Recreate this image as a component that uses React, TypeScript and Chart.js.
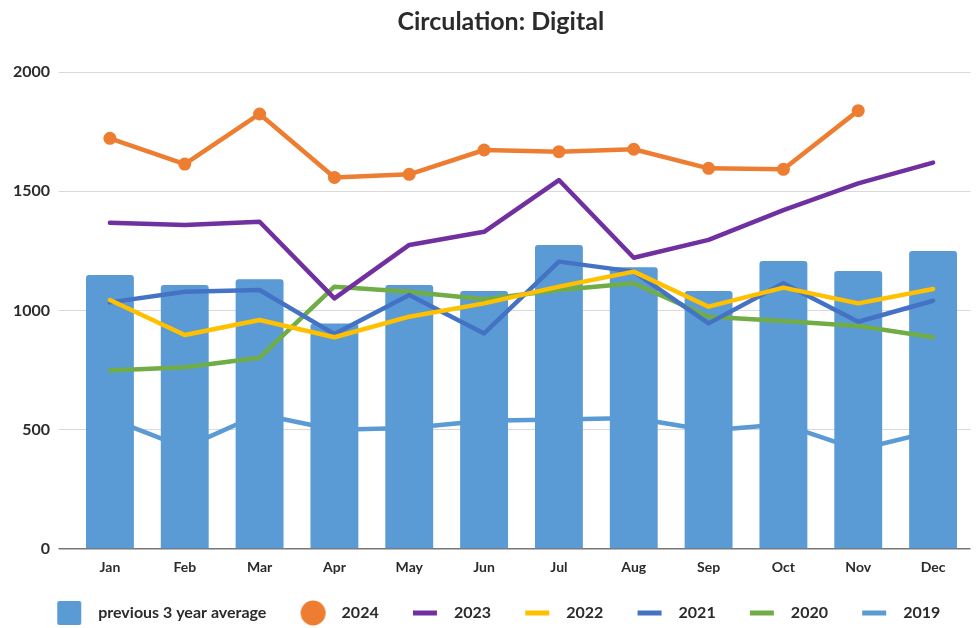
import { useEffect, useRef } from 'react';
import { Chart, registerables } from 'chart.js';

Chart.register(...registerables);

const months = ['Jan', 'Feb', 'Mar', 'Apr', 'May', 'Jun', 'Jul', 'Aug', 'Sep', 'Oct', 'Nov', 'Dec'];
const avg3 = [1149, 1107, 1131, 946, 1107, 1082, 1275, 1181, 1082, 1208, 1166, 1250];
const y2024 = [1722, 1614, 1824, 1558, 1571, 1673, 1666, 1676, 1596, 1592, 1838, null];
const y2023 = [1368, 1358, 1372, 1051, 1275, 1330, 1547, 1221, 1296, 1421, 1533, 1620];
const y2022 = [1044, 897, 960, 888, 974, 1030, 1100, 1163, 1016, 1096, 1030, 1090];
const y2021 = [1034, 1079, 1086, 901, 1065, 904, 1205, 1163, 946, 1114, 953, 1041];
const y2020 = [748, 762, 802, 1100, 1079, 1047, 1086, 1114, 974, 956, 935, 888];
const y2019 = [547, 425, 565, 500, 507, 538, 543, 549, 497, 523, 417, 493];
const yTicks = [0, 500, 1000, 1500, 2000];

const C_BAR = '#5B9BD5';
const C_2024 = '#ED7D31';
const C_2023 = '#7030A0';
const C_2022 = '#FFC000';
const C_2021 = '#4472C4';
const C_2020 = '#70AD47';
const C_2019 = '#5B9BD5';
const TEXT = '#2b2b2b';

const SW_MARGIN = 18;

function makeSwatch(kind: 'square' | 'circle' | 'line', color: string): HTMLCanvasElement {
  const c = document.createElement('canvas');
  c.width = 33 + SW_MARGIN;
  c.height = 26;
  const g = c.getContext('2d')!;
  g.fillStyle = color;
  const x0 = SW_MARGIN;
  if (kind === 'square') {
    g.beginPath();
    (g as any).roundRect ? (g as any).roundRect(x0, 1, 24, 24, 2) : g.rect(x0, 1, 24, 24);
    g.fill();
  } else if (kind === 'circle') {
    g.beginPath();
    g.arc(x0 + 12.5, 13, 12.5, 0, Math.PI * 2);
    g.fill();
  } else {
    g.fillRect(x0, 10.5, 24, 5);
  }
  return c;
}

const shiftPlugin = {
  id: 'shiftBoxes',
  afterLayout(chart: any) {
    const t = chart.titleBlock;
    if (t) {
      t.left += 14;
      t.right += 14;
    }
    const l = chart.legend;
    if (l) {
      l.left += 3;
      l.right += 3;
      l.top += 3;
      l.bottom += 3;
    }
  },
};

export default function App() {
  const ref = useRef<HTMLCanvasElement>(null);

  useEffect(() => {
    document.body.style.margin = '0';
    Chart.defaults.font.family = 'Lato';
    const swatches = [
      makeSwatch('square', C_BAR),
      makeSwatch('circle', C_2024),
      makeSwatch('line', C_2023),
      makeSwatch('line', C_2022),
      makeSwatch('line', C_2021),
      makeSwatch('line', C_2020),
      makeSwatch('line', C_2019),
    ];
    const lineDs = (label: string, data: (number | null)[], color: string, order: number) => ({
      type: 'line' as const,
      label,
      data,
      borderColor: color,
      backgroundColor: color,
      borderWidth: 4.5,
      pointRadius: 0,
      pointHoverRadius: 0,
      tension: 0,
      borderJoinStyle: 'round' as const,
      borderCapStyle: 'round' as const,
      order,
    });
    const chart = new Chart(ref.current!, {
      type: 'bar',
      plugins: [shiftPlugin],
      data: {
        labels: months,
        datasets: [
          {
            type: 'bar',
            label: 'previous 3 year average',
            data: avg3,
            backgroundColor: C_BAR,
            borderRadius: 3,
            barPercentage: 0.64,
            categoryPercentage: 1,
            order: 9,
          },
          {
            ...lineDs('2024', y2024, C_2024, 1),
            pointRadius: 6.5,
            pointBackgroundColor: C_2024,
            pointBorderWidth: 0,
          },
          lineDs('2023', y2023, C_2023, 2),
          lineDs('2022', y2022, C_2022, 3),
          lineDs('2021', y2021, C_2021, 4),
          lineDs('2020', y2020, C_2020, 5),
          lineDs('2019', y2019, C_2019, 10),
        ] as any,
      },
      options: {
        animation: false,
        responsive: true,
        maintainAspectRatio: false,
        layout: { padding: { left: 0, right: 3.5, top: 0, bottom: 0 } },
        plugins: {
          title: {
            display: true,
            text: 'Circulation: Digital',
            color: TEXT,
            font: { size: 25, weight: 'bold' },
            padding: { top: 7, bottom: 35 },
          },
          tooltip: { enabled: false },
          legend: {
            position: 'bottom',
            labels: {
              usePointStyle: true,
              pointStyleWidth: 33 + SW_MARGIN,
              padding: 16.2,
              color: TEXT,
              font: { size: 16, weight: 'bold' },
              sort: (a: any, b: any) => a.datasetIndex - b.datasetIndex,
              generateLabels: (ch: any) => {
                const items = (Chart.defaults.plugins.legend.labels.generateLabels as any)(ch);
                return items.map((it: any) => ({ ...it, pointStyle: swatches[it.datasetIndex] }));
              },
            },
          },
        },
        scales: {
          x: {
            grid: { display: false, drawTicks: false },
            border: { display: false },
            ticks: { color: TEXT, font: { size: 14, weight: 'bold' }, padding: 10 },
          },
          y: {
            min: 0,
            max: 2000,
            afterBuildTicks: (scale: any) => {
              scale.ticks = yTicks.map((v) => ({ value: v }));
            },
            afterFit: (scale: any) => {
              scale.width = 72.5;
            },
            grid: {
              color: (ctx: any) => (ctx.tick && ctx.tick.value === 0 ? '#767676' : '#d9d9d9'),
              lineWidth: (ctx: any) => (ctx.tick && ctx.tick.value === 0 ? 1.5 : 1),
              drawTicks: true,
              tickLength: 14,
            },
            border: { display: false },
            ticks: {
              color: TEXT,
              font: { size: 16, weight: 'bold' },
              padding: 8.5,
              callback: (v: any) => String(v),
            },
          },
        },
      },
    });
    return () => chart.destroy();
  }, []);

  return (
    <div style={{ position: 'relative', width: 977, height: 628 }}>
      <canvas ref={ref} />
    </div>
  );
}
